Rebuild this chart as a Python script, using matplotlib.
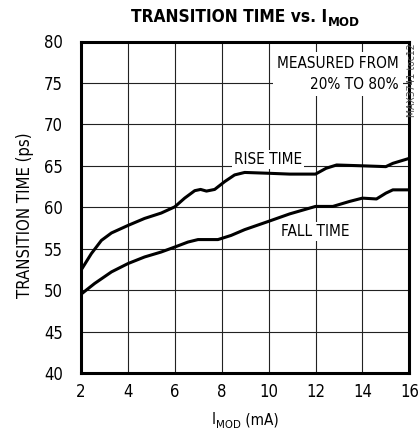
import matplotlib
matplotlib.use("Agg")
import matplotlib.pyplot as plt

plt.rcParams['font.family'] = ['DejaVu Sans']
plt.rcParams['font.stretch'] = 'condensed'

# data (I_MOD in mA, transition time in ps)
rise_x = [2.0, 2.44, 2.87, 3.3, 4.0, 4.71, 5.42, 6.0, 6.42, 6.85, 7.1, 7.35, 7.7, 8.13, 8.55, 8.98,
          10.0, 10.9, 12.0, 12.45, 12.9, 14.0, 15.0, 15.3, 16.0]
rise_y = [52.4, 54.4, 56.0, 56.9, 57.8, 58.65, 59.3, 60.05, 61.1, 62.0, 62.15, 61.95, 62.15, 63.1, 63.9, 64.2,
          64.1, 64.0, 64.0, 64.7, 65.1, 65.0, 64.9, 65.3, 65.9]
fall_x = [2.0, 2.58, 3.3, 4.0, 4.71, 5.42, 6.0, 6.56, 6.99, 7.84, 8.4, 8.98, 10.0, 10.9, 12.0,
          12.74, 13.45, 14.0, 14.6, 15.0, 15.3, 16.0]
fall_y = [49.5, 50.8, 52.2, 53.2, 54.0, 54.6, 55.2, 55.8, 56.1, 56.1, 56.6, 57.3, 58.3, 59.2, 60.1,
          60.1, 60.7, 61.1, 61.0, 61.7, 62.1, 62.1]
x_ticks = [2, 4, 6, 8, 10, 12, 14, 16]
y_ticks = [40, 45, 50, 55, 60, 65, 70, 75, 80]

fig = plt.figure(figsize=(4.18, 4.34), dpi=100)
ax = fig.add_axes([81/418, 1-373/434, 328.3/418, 331.5/434])
ax.set_xlim(2, 16)
ax.set_ylim(40, 80)
ax.set_xticks(x_ticks)
ax.set_yticks(y_ticks)
ax.grid(True, color='#222222', linewidth=0.8)
ax.set_axisbelow(True)
ax.tick_params(length=0, labelsize=12)
ax.tick_params(axis='y', pad=13)
ax.tick_params(axis='x', pad=7)
for s in ax.spines.values():
    s.set_linewidth(2.2)
    s.set_zorder(5)

ax.plot(rise_x, rise_y, color='black', linewidth=2.2, solid_capstyle='butt', zorder=3)
ax.plot(fall_x, fall_y, color='black', linewidth=2.2, solid_capstyle='butt', zorder=3)

bb = dict(facecolor='white', edgecolor='none', pad=1.5)
ax.text(9.98, 65.8, 'RISE TIME', fontsize=11, ha='center', va='center', bbox=bb, zorder=4)
ax.text(12.0, 57.1, 'FALL TIME', fontsize=11, ha='center', va='center', bbox=bb, zorder=4)
ax.text(15.56, 76.1, 'MEASURED FROM\n20% TO 80%', fontsize=11, ha='right', va='center',
        multialignment='right', linespacing=1.45,
        bbox=dict(facecolor='white', edgecolor='none', pad=3), zorder=4)

# title with subscript
t = fig.text(327/418, 1-17/434, 'TRANSITION TIME vs. I', fontsize=12.4, fontweight='bold',
             ha='right', va='center')
ax.annotate('MOD', xy=(1, 0), xycoords=t, xytext=(0.5, -2), textcoords='offset points',
            fontsize=9.5, fontweight='bold', ha='left', va='bottom')

# x label with subscript
xl = fig.text(212/418, 1-420/434, 'I', fontsize=11, ha='left', va='center')
ml = ax.annotate('MOD', xy=(1, 0), xycoords=xl, xytext=(0.3, -1.5), textcoords='offset points',
                 fontsize=8.2, ha='left', va='bottom')
ax.annotate(' (mA)', xy=(1, 0), xycoords=ml, xytext=(0, 1.5), textcoords='offset points',
            fontsize=11, ha='left', va='bottom')

fig.text(25/418, 1-215/434, 'TRANSITION TIME (ps)', fontsize=12, rotation=90,
         ha='center', va='center')
fig.text(412/418, 1-43/434, 'MAX3741 toc12', fontsize=7.5, rotation=90, color='#555555',
         ha='center', va='top')

fig.savefig('out.png', dpi=100)
